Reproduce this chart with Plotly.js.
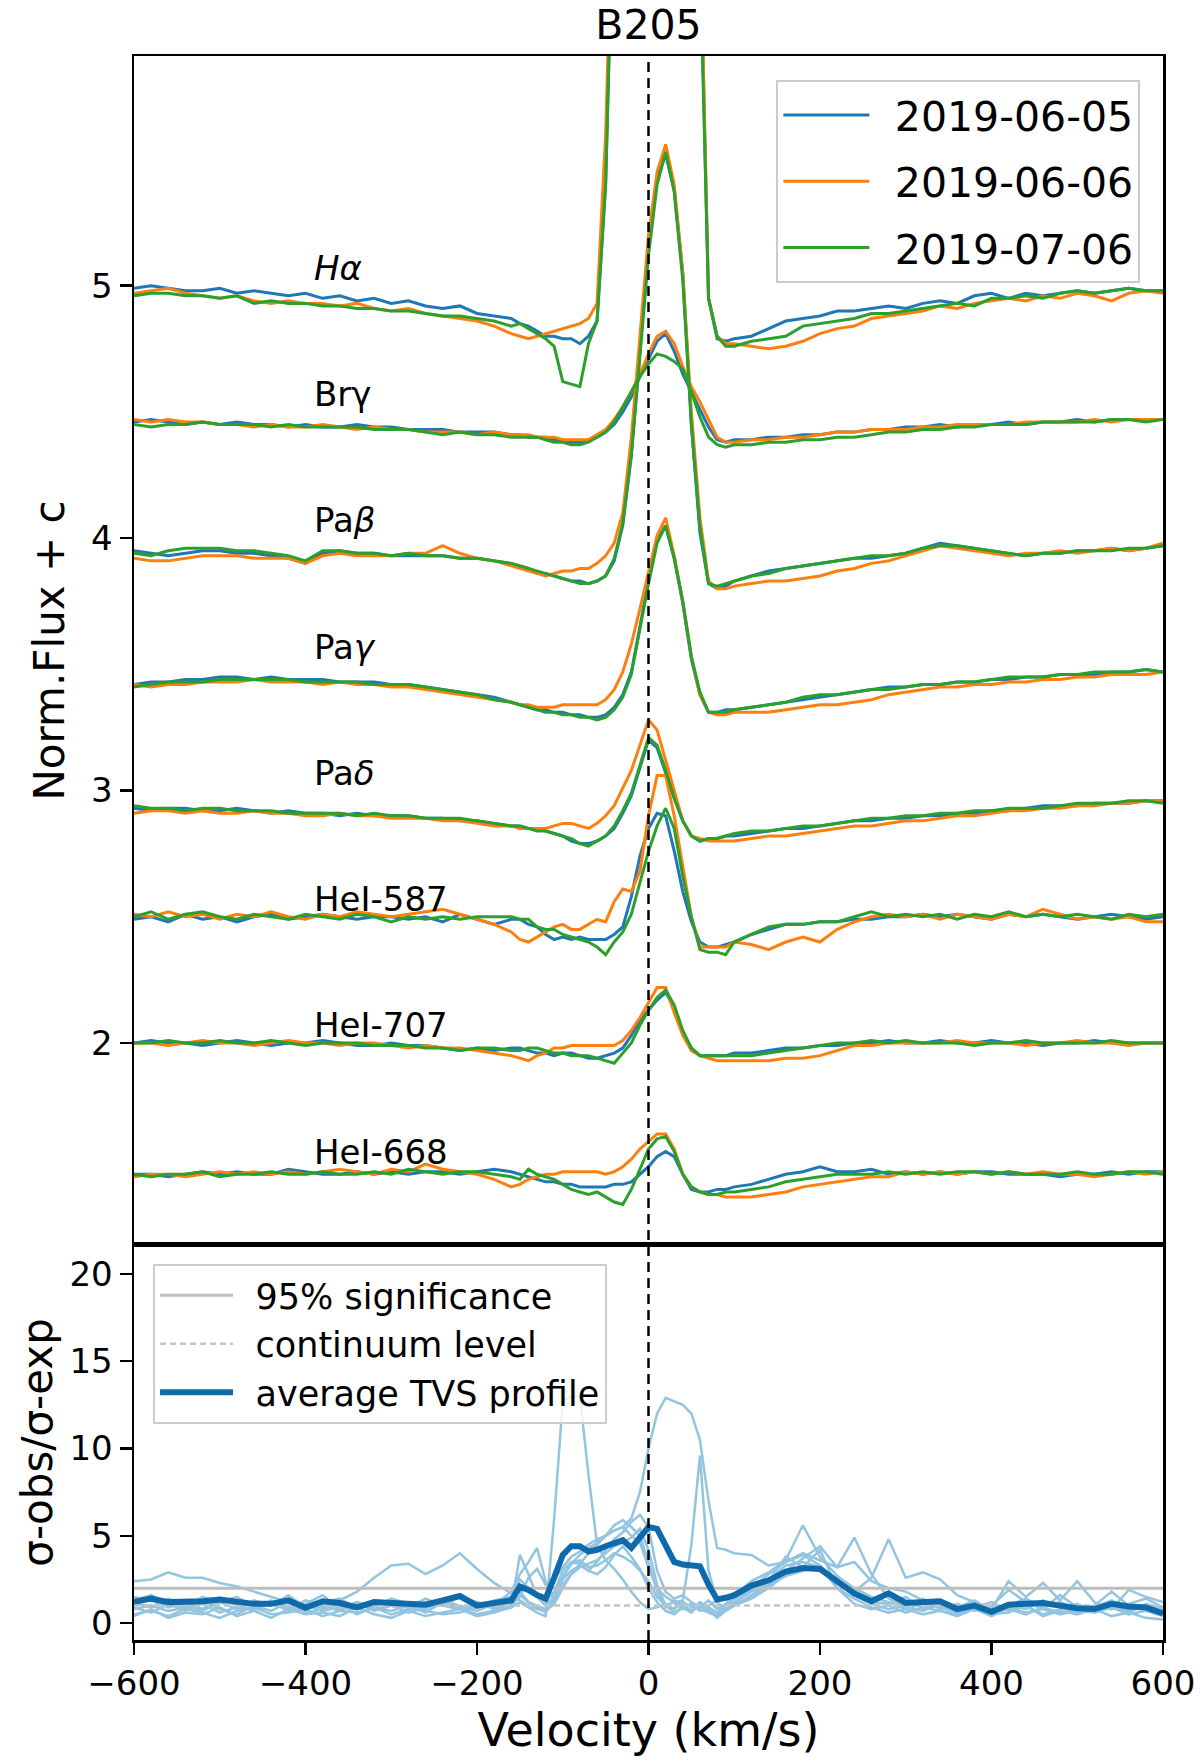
<!DOCTYPE html>
<html>
<head>
<meta charset="utf-8">
<script src="https://cdn.plot.ly/plotly-3.0.1.min.js"></script>
<style>
  html, body { margin: 0; padding: 0; background: #ffffff; }
  #tvs-chart { width: 1200px; height: 1764px; }
</style>
</head>
<body>
<div id="tvs-chart"></div>
<script>
(function () {
  "use strict";

  // velocity grid (km/s): coarse in the wings, finer across the line cores
  var velocity = [-600, -580, -560, -540, -520, -500, -480, -460, -440, -420, -400, -380, -360, -340, -320, -300, -280, -260, -240, -220, -200, -180, -160,
    -150, -140, -130, -120, -110, -100, -90, -80, -70, -60, -50, -40, -30, -20, -10, 0, 10, 20, 30, 40, 50, 60, 70, 80, 90, 100,
    120, 140, 160, 180, 200, 220, 240, 260, 280, 300, 320, 340, 360, 380, 400, 420, 440, 460, 480, 500, 520, 540, 560, 580, 600];

  var dates = ["2019-06-05", "2019-06-06", "2019-07-06"];
  var dateColors = ["#1f77b4", "#ff7f0e", "#2ca02c"];

  // normalised flux + offset, one array per line and night
  var haJun05 = [4.99, 5.00, 4.99, 4.98, 4.98, 4.99, 4.97, 4.98, 4.97, 4.96, 4.97, 4.95, 4.96, 4.94, 4.95, 4.93, 4.94, 4.92, 4.91, 4.92, 4.89, 4.88, 4.87,
    4.85, 4.84, 4.82, 4.80, 4.80, 4.79, 4.79, 4.77, 4.80, 4.86, 5.40, 6.50, 8.00, 8.00, 8.00, 8.00, 8.00, 8.00, 8.00, 8.00, 7.50, 6.40, 4.95, 4.79, 4.78, 4.79,
    4.80, 4.83, 4.86, 4.87, 4.88, 4.90, 4.90, 4.91, 4.92, 4.91, 4.93, 4.94, 4.93, 4.96, 4.97, 4.95, 4.97, 4.96, 4.97, 4.98, 4.97, 4.98, 4.99, 4.98, 4.98];
  var haJun06 = [4.97, 4.98, 4.99, 4.97, 4.96, 4.95, 4.96, 4.94, 4.93, 4.94, 4.93, 4.93, 4.92, 4.93, 4.91, 4.90, 4.91, 4.89, 4.88, 4.87, 4.86, 4.84, 4.81,
    4.80, 4.79, 4.80, 4.81, 4.82, 4.83, 4.84, 4.85, 4.87, 4.93, 5.60, 7.00, 8.00, 8.00, 8.00, 8.00, 8.00, 8.00, 8.00, 8.00, 7.50, 6.50, 4.95, 4.80, 4.77, 4.77,
    4.76, 4.75, 4.76, 4.78, 4.81, 4.83, 4.84, 4.87, 4.88, 4.89, 4.90, 4.92, 4.91, 4.93, 4.94, 4.95, 4.94, 4.96, 4.95, 4.97, 4.96, 4.94, 4.97, 4.98, 4.97];
  var haJul06 = [4.96, 4.97, 4.97, 4.96, 4.96, 4.95, 4.96, 4.93, 4.94, 4.93, 4.93, 4.92, 4.92, 4.91, 4.91, 4.90, 4.90, 4.89, 4.88, 4.88, 4.87, 4.86, 4.84,
    4.85, 4.83, 4.81, 4.79, 4.76, 4.62, 4.61, 4.60, 4.77, 4.86, 5.40, 7.00, 8.00, 8.00, 8.00, 8.00, 8.00, 8.00, 8.00, 8.00, 7.50, 6.30, 4.95, 4.80, 4.76, 4.76,
    4.78, 4.79, 4.80, 4.84, 4.85, 4.86, 4.87, 4.89, 4.89, 4.90, 4.91, 4.92, 4.93, 4.92, 4.95, 4.95, 4.96, 4.95, 4.97, 4.98, 4.97, 4.98, 4.99, 4.98, 4.98];

  var brgJun05 = [4.46, 4.47, 4.46, 4.45, 4.46, 4.45, 4.46, 4.45, 4.45, 4.44, 4.45, 4.44, 4.44, 4.45, 4.44, 4.44, 4.43, 4.43, 4.43, 4.42, 4.42, 4.42, 4.41,
    4.41, 4.40, 4.40, 4.40, 4.39, 4.39, 4.38, 4.38, 4.39, 4.40, 4.42, 4.45, 4.50, 4.56, 4.64, 4.71, 4.78, 4.81, 4.74, 4.65, 4.58, 4.51, 4.44, 4.39, 4.38, 4.39,
    4.39, 4.40, 4.40, 4.41, 4.41, 4.42, 4.42, 4.43, 4.43, 4.44, 4.44, 4.45, 4.44, 4.45, 4.45, 4.46, 4.45, 4.46, 4.46, 4.47, 4.46, 4.47, 4.47, 4.47, 4.47];
  var brgJun06 = [4.47, 4.46, 4.47, 4.46, 4.46, 4.45, 4.45, 4.44, 4.45, 4.44, 4.44, 4.45, 4.44, 4.43, 4.44, 4.43, 4.43, 4.42, 4.42, 4.42, 4.41, 4.42, 4.41,
    4.41, 4.41, 4.40, 4.40, 4.40, 4.39, 4.39, 4.39, 4.39, 4.41, 4.43, 4.47, 4.52, 4.58, 4.65, 4.73, 4.80, 4.82, 4.77, 4.68, 4.60, 4.54, 4.47, 4.40, 4.38, 4.38,
    4.39, 4.39, 4.40, 4.40, 4.41, 4.42, 4.42, 4.43, 4.43, 4.43, 4.44, 4.44, 4.45, 4.45, 4.45, 4.45, 4.46, 4.46, 4.46, 4.46, 4.47, 4.46, 4.47, 4.47, 4.47];
  var brgJul06 = [4.45, 4.44, 4.45, 4.45, 4.46, 4.45, 4.45, 4.45, 4.44, 4.45, 4.44, 4.44, 4.44, 4.44, 4.43, 4.43, 4.43, 4.42, 4.41, 4.42, 4.41, 4.41, 4.40,
    4.40, 4.40, 4.40, 4.39, 4.38, 4.38, 4.37, 4.37, 4.38, 4.40, 4.42, 4.46, 4.52, 4.58, 4.64, 4.69, 4.73, 4.72, 4.70, 4.67, 4.58, 4.48, 4.40, 4.37, 4.36, 4.37,
    4.37, 4.38, 4.38, 4.39, 4.39, 4.40, 4.40, 4.41, 4.42, 4.42, 4.43, 4.43, 4.44, 4.44, 4.45, 4.45, 4.45, 4.46, 4.46, 4.46, 4.46, 4.47, 4.47, 4.46, 4.47];

  var pabJun05 = [3.95, 3.94, 3.93, 3.94, 3.95, 3.95, 3.94, 3.94, 3.93, 3.92, 3.90, 3.94, 3.95, 3.94, 3.94, 3.93, 3.93, 3.93, 3.93, 3.92, 3.92, 3.91, 3.90,
    3.89, 3.88, 3.86, 3.86, 3.85, 3.84, 3.83, 3.83, 3.82, 3.83, 3.85, 3.91, 4.05, 4.33, 4.75, 5.15, 5.42, 5.52, 5.38, 5.05, 4.45, 4.02, 3.82, 3.80, 3.81, 3.83,
    3.85, 3.87, 3.88, 3.89, 3.90, 3.91, 3.92, 3.92, 3.93, 3.94, 3.96, 3.98, 3.97, 3.96, 3.95, 3.94, 3.93, 3.94, 3.94, 3.95, 3.95, 3.96, 3.95, 3.96, 3.97];
  var pabJun06 = [3.92, 3.91, 3.91, 3.92, 3.93, 3.93, 3.93, 3.92, 3.92, 3.92, 3.90, 3.93, 3.94, 3.93, 3.93, 3.93, 3.94, 3.94, 3.97, 3.94, 3.92, 3.91, 3.89,
    3.88, 3.87, 3.86, 3.85, 3.86, 3.87, 3.87, 3.88, 3.88, 3.90, 3.93, 3.98, 4.10, 4.40, 4.80, 5.20, 5.45, 5.56, 5.40, 5.05, 4.50, 4.08, 3.83, 3.80, 3.80, 3.81,
    3.82, 3.83, 3.83, 3.84, 3.85, 3.87, 3.88, 3.90, 3.91, 3.93, 3.95, 3.97, 3.96, 3.95, 3.94, 3.93, 3.94, 3.94, 3.95, 3.94, 3.95, 3.96, 3.95, 3.96, 3.98];
  var pabJul06 = [3.94, 3.93, 3.95, 3.96, 3.96, 3.96, 3.95, 3.95, 3.94, 3.93, 3.91, 3.95, 3.95, 3.94, 3.94, 3.93, 3.94, 3.93, 3.93, 3.92, 3.92, 3.91, 3.90,
    3.89, 3.88, 3.87, 3.86, 3.85, 3.84, 3.83, 3.82, 3.82, 3.83, 3.85, 3.92, 4.06, 4.33, 4.72, 5.12, 5.40, 5.53, 5.37, 5.02, 4.45, 4.04, 3.82, 3.81, 3.82, 3.83,
    3.85, 3.86, 3.88, 3.89, 3.90, 3.91, 3.92, 3.93, 3.93, 3.94, 3.96, 3.97, 3.97, 3.96, 3.95, 3.94, 3.93, 3.94, 3.94, 3.95, 3.95, 3.95, 3.96, 3.96, 3.97];

  var pagJun05 = [3.42, 3.43, 3.43, 3.44, 3.44, 3.45, 3.45, 3.44, 3.45, 3.44, 3.44, 3.44, 3.43, 3.43, 3.43, 3.42, 3.42, 3.41, 3.40, 3.39, 3.38, 3.37, 3.35,
    3.34, 3.33, 3.32, 3.32, 3.31, 3.31, 3.30, 3.30, 3.29, 3.29, 3.30, 3.33, 3.38, 3.47, 3.65, 3.83, 3.99, 4.05, 3.92, 3.74, 3.52, 3.38, 3.31, 3.31, 3.32, 3.32,
    3.33, 3.34, 3.35, 3.36, 3.37, 3.38, 3.39, 3.40, 3.41, 3.41, 3.42, 3.42, 3.43, 3.43, 3.44, 3.44, 3.45, 3.45, 3.46, 3.46, 3.46, 3.47, 3.47, 3.48, 3.47];
  var pagJun06 = [3.42, 3.41, 3.42, 3.42, 3.43, 3.43, 3.43, 3.44, 3.43, 3.43, 3.43, 3.42, 3.43, 3.42, 3.42, 3.41, 3.41, 3.40, 3.39, 3.38, 3.37, 3.36, 3.35,
    3.34, 3.34, 3.33, 3.33, 3.33, 3.34, 3.34, 3.34, 3.34, 3.34, 3.36, 3.40, 3.47, 3.58, 3.72, 3.86, 4.01, 4.08, 3.93, 3.75, 3.53, 3.38, 3.31, 3.30, 3.30, 3.31,
    3.31, 3.31, 3.32, 3.33, 3.34, 3.34, 3.35, 3.36, 3.38, 3.39, 3.40, 3.41, 3.41, 3.42, 3.42, 3.43, 3.43, 3.44, 3.44, 3.45, 3.45, 3.46, 3.46, 3.46, 3.47];
  var pagJul06 = [3.41, 3.42, 3.43, 3.43, 3.43, 3.44, 3.44, 3.44, 3.44, 3.44, 3.43, 3.43, 3.43, 3.43, 3.42, 3.42, 3.42, 3.41, 3.40, 3.39, 3.38, 3.36, 3.35,
    3.34, 3.33, 3.32, 3.31, 3.31, 3.30, 3.30, 3.29, 3.29, 3.28, 3.29, 3.32, 3.37, 3.46, 3.64, 3.82, 3.98, 4.05, 3.92, 3.75, 3.53, 3.39, 3.31, 3.31, 3.31, 3.32,
    3.33, 3.34, 3.35, 3.37, 3.38, 3.38, 3.39, 3.40, 3.40, 3.41, 3.42, 3.42, 3.43, 3.43, 3.44, 3.45, 3.45, 3.45, 3.46, 3.46, 3.47, 3.47, 3.47, 3.48, 3.47];

  var padJun05 = [2.93, 2.92, 2.93, 2.93, 2.92, 2.92, 2.93, 2.92, 2.91, 2.92, 2.91, 2.91, 2.90, 2.91, 2.90, 2.90, 2.90, 2.89, 2.89, 2.88, 2.88, 2.87, 2.86,
    2.86, 2.85, 2.85, 2.84, 2.83, 2.82, 2.80, 2.79, 2.79, 2.80, 2.82, 2.85, 2.91, 2.98, 3.09, 3.20, 3.17, 3.07, 2.97, 2.88, 2.82, 2.80, 2.81, 2.81, 2.82, 2.82,
    2.83, 2.84, 2.85, 2.85, 2.86, 2.87, 2.88, 2.88, 2.89, 2.89, 2.90, 2.90, 2.91, 2.91, 2.92, 2.92, 2.93, 2.94, 2.94, 2.94, 2.95, 2.95, 2.95, 2.96, 2.96];
  var padJun06 = [2.91, 2.92, 2.92, 2.91, 2.92, 2.91, 2.91, 2.92, 2.91, 2.91, 2.90, 2.90, 2.91, 2.90, 2.90, 2.89, 2.89, 2.89, 2.88, 2.88, 2.87, 2.86, 2.86,
    2.85, 2.85, 2.85, 2.85, 2.86, 2.87, 2.87, 2.86, 2.85, 2.87, 2.90, 2.94, 3.01, 3.08, 3.18, 3.28, 3.24, 3.12, 2.99, 2.88, 2.82, 2.81, 2.80, 2.80, 2.80, 2.80,
    2.81, 2.82, 2.82, 2.83, 2.84, 2.85, 2.86, 2.86, 2.87, 2.88, 2.88, 2.89, 2.90, 2.90, 2.91, 2.92, 2.92, 2.93, 2.93, 2.94, 2.94, 2.95, 2.95, 2.96, 2.96];
  var padJul06 = [2.94, 2.93, 2.93, 2.92, 2.93, 2.93, 2.92, 2.92, 2.92, 2.91, 2.91, 2.91, 2.91, 2.90, 2.91, 2.90, 2.90, 2.89, 2.89, 2.89, 2.88, 2.87, 2.86,
    2.86, 2.85, 2.84, 2.84, 2.83, 2.82, 2.81, 2.79, 2.78, 2.80, 2.82, 2.86, 2.92, 2.99, 3.10, 3.21, 3.18, 3.08, 2.97, 2.88, 2.82, 2.80, 2.81, 2.81, 2.82, 2.83,
    2.84, 2.84, 2.85, 2.86, 2.86, 2.87, 2.88, 2.89, 2.89, 2.90, 2.90, 2.91, 2.91, 2.92, 2.92, 2.93, 2.93, 2.93, 2.94, 2.95, 2.95, 2.95, 2.96, 2.96, 2.95];

  var he587Jun05 = [2.49, 2.50, 2.48, 2.51, 2.49, 2.50, 2.48, 2.50, 2.51, 2.49, 2.50, 2.51, 2.50, 2.49, 2.50, 2.50, 2.49, 2.50, 2.48, 2.51, 2.49, 2.47, 2.49,
    2.49, 2.47, 2.46, 2.43, 2.41, 2.42, 2.41, 2.42, 2.41, 2.41, 2.41, 2.43, 2.46, 2.58, 2.74, 2.85, 2.91, 2.90, 2.76, 2.60, 2.48, 2.40, 2.38, 2.38, 2.39, 2.40,
    2.43, 2.45, 2.47, 2.47, 2.48, 2.48, 2.49, 2.49, 2.50, 2.50, 2.51, 2.50, 2.51, 2.50, 2.49, 2.51, 2.50, 2.51, 2.50, 2.49, 2.50, 2.51, 2.50, 2.49, 2.50];
  var he587Jun06 = [2.51, 2.50, 2.52, 2.50, 2.51, 2.49, 2.51, 2.50, 2.52, 2.50, 2.49, 2.51, 2.50, 2.52, 2.51, 2.50, 2.51, 2.52, 2.53, 2.51, 2.49, 2.47, 2.44,
    2.41, 2.40, 2.42, 2.44, 2.46, 2.47, 2.45, 2.45, 2.47, 2.49, 2.48, 2.56, 2.61, 2.60, 2.68, 2.90, 3.06, 3.06, 2.90, 2.70, 2.50, 2.38, 2.38, 2.38, 2.38, 2.40,
    2.39, 2.37, 2.40, 2.42, 2.40, 2.45, 2.48, 2.50, 2.51, 2.50, 2.51, 2.49, 2.51, 2.50, 2.49, 2.51, 2.50, 2.53, 2.51, 2.49, 2.50, 2.49, 2.50, 2.48, 2.48];
  var he587Jul06 = [2.50, 2.52, 2.49, 2.51, 2.52, 2.50, 2.49, 2.51, 2.50, 2.49, 2.51, 2.50, 2.49, 2.51, 2.50, 2.48, 2.50, 2.49, 2.50, 2.49, 2.50, 2.50, 2.50,
    2.49, 2.49, 2.46, 2.45, 2.45, 2.43, 2.42, 2.41, 2.40, 2.38, 2.35, 2.40, 2.44, 2.51, 2.64, 2.76, 2.86, 2.93, 2.85, 2.66, 2.50, 2.37, 2.36, 2.36, 2.35, 2.40,
    2.43, 2.46, 2.47, 2.47, 2.48, 2.48, 2.50, 2.52, 2.50, 2.51, 2.50, 2.51, 2.49, 2.51, 2.50, 2.52, 2.50, 2.51, 2.50, 2.51, 2.50, 2.49, 2.51, 2.50, 2.51];

  var he707Jun05 = [2.00, 2.01, 2.00, 2.00, 1.99, 2.00, 2.01, 2.00, 1.99, 2.00, 2.00, 2.01, 2.00, 1.99, 1.99, 2.00, 1.99, 1.99, 1.98, 1.97, 1.98, 1.97, 1.98,
    1.98, 1.97, 1.96, 1.96, 1.95, 1.96, 1.96, 1.95, 1.94, 1.94, 1.95, 1.96, 1.98, 2.03, 2.09, 2.13, 2.17, 2.20, 2.14, 2.04, 1.98, 1.95, 1.95, 1.95, 1.95, 1.96,
    1.96, 1.97, 1.98, 1.98, 1.99, 1.99, 2.00, 2.00, 2.01, 2.00, 2.00, 2.01, 2.00, 2.00, 2.01, 2.00, 2.00, 1.99, 2.00, 2.00, 2.01, 2.00, 2.00, 2.00, 2.00];
  var he707Jun06 = [2.00, 2.00, 1.99, 2.00, 2.01, 2.00, 2.00, 1.99, 2.00, 2.01, 2.00, 2.00, 1.99, 2.00, 2.00, 1.99, 1.98, 1.99, 1.98, 1.98, 1.97, 1.96, 1.95,
    1.94, 1.93, 1.95, 1.96, 1.98, 1.98, 1.99, 1.99, 1.99, 1.99, 1.99, 1.99, 2.01, 2.05, 2.10, 2.16, 2.22, 2.22, 2.12, 2.03, 1.97, 1.95, 1.94, 1.93, 1.93, 1.93,
    1.93, 1.93, 1.94, 1.94, 1.95, 1.97, 1.99, 1.99, 2.00, 2.00, 2.00, 2.00, 2.01, 2.00, 2.00, 2.00, 1.99, 2.00, 2.00, 2.01, 2.00, 2.00, 1.99, 2.00, 2.00];
  var he707Jul06 = [2.00, 2.00, 2.01, 2.00, 2.00, 2.01, 2.00, 2.00, 2.01, 2.00, 1.99, 2.00, 2.00, 2.00, 1.99, 1.99, 1.99, 1.98, 1.98, 1.97, 1.98, 1.98, 1.97,
    1.97, 1.98, 1.98, 1.97, 1.96, 1.96, 1.95, 1.95, 1.95, 1.94, 1.93, 1.92, 1.96, 2.00, 2.07, 2.13, 2.18, 2.21, 2.15, 2.05, 1.98, 1.95, 1.95, 1.95, 1.95, 1.95,
    1.95, 1.96, 1.97, 1.98, 1.99, 2.00, 2.00, 2.01, 2.00, 2.01, 2.00, 2.00, 2.00, 1.99, 2.00, 2.00, 2.01, 2.00, 2.00, 2.00, 2.00, 2.01, 2.00, 2.00, 2.00];

  var he668Jun05 = [1.48, 1.48, 1.47, 1.48, 1.49, 1.48, 1.49, 1.48, 1.48, 1.50, 1.49, 1.48, 1.48, 1.49, 1.48, 1.49, 1.48, 1.49, 1.49, 1.48, 1.49, 1.50, 1.49,
    1.48, 1.47, 1.46, 1.45, 1.45, 1.44, 1.44, 1.43, 1.43, 1.43, 1.43, 1.44, 1.44, 1.45, 1.48, 1.51, 1.55, 1.57, 1.55, 1.48, 1.42, 1.41, 1.41, 1.42, 1.42, 1.43,
    1.44, 1.46, 1.48, 1.49, 1.51, 1.49, 1.49, 1.50, 1.48, 1.49, 1.48, 1.49, 1.48, 1.49, 1.49, 1.48, 1.48, 1.48, 1.47, 1.48, 1.48, 1.49, 1.48, 1.49, 1.49];
  var he668Jun06 = [1.47, 1.48, 1.48, 1.47, 1.48, 1.49, 1.48, 1.49, 1.48, 1.49, 1.48, 1.49, 1.50, 1.49, 1.48, 1.50, 1.49, 1.52, 1.50, 1.49, 1.48, 1.46, 1.43,
    1.44, 1.46, 1.47, 1.48, 1.48, 1.49, 1.49, 1.49, 1.49, 1.49, 1.48, 1.49, 1.51, 1.54, 1.58, 1.61, 1.64, 1.64, 1.58, 1.48, 1.43, 1.41, 1.40, 1.40, 1.39, 1.39,
    1.39, 1.40, 1.41, 1.43, 1.44, 1.45, 1.46, 1.47, 1.47, 1.49, 1.48, 1.49, 1.48, 1.49, 1.48, 1.49, 1.48, 1.49, 1.48, 1.48, 1.47, 1.48, 1.49, 1.48, 1.49];
  var he668Jul06 = [1.48, 1.47, 1.48, 1.48, 1.49, 1.47, 1.48, 1.48, 1.49, 1.48, 1.48, 1.49, 1.48, 1.48, 1.49, 1.48, 1.50, 1.49, 1.48, 1.49, 1.49, 1.48, 1.47,
    1.46, 1.50, 1.48, 1.47, 1.46, 1.44, 1.42, 1.41, 1.40, 1.41, 1.39, 1.37, 1.36, 1.42, 1.50, 1.58, 1.62, 1.63, 1.57, 1.48, 1.43, 1.41, 1.40, 1.40, 1.41, 1.41,
    1.42, 1.43, 1.45, 1.46, 1.47, 1.48, 1.48, 1.48, 1.49, 1.48, 1.49, 1.48, 1.49, 1.49, 1.48, 1.49, 1.48, 1.48, 1.48, 1.49, 1.48, 1.48, 1.49, 1.49, 1.48];

  var lineLabels = ["<i>Hα</i>", "Brγ", "Pa<i>β</i>", "Pa<i>γ</i>", "Pa<i>δ</i>", "HeI-587", "HeI-707", "HeI-668"];
  var labelLevels = [5.07, 4.57, 4.07, 3.57, 3.07, 2.57, 2.07, 1.57];
  var labelVelocity = -392;

  // TVS (sigma-obs / sigma-exp) of the individual lines, and their average
  var tvsHa = [0.9, 0.6, 1.1, 0.7, 1.3, 0.8, 0.5, 1.0, 0.7, 1.2, 0.6, 0.8, 1.1, 0.5, 0.9, 0.7, 1.0, 0.6, 1.2, 0.9, 0.5, 0.7, 0.9,
    1.2, 0.9, 0.6, 0.4, 6.0, 12.7, 13.0, 13.0, 8.5, 4.5, 3.6, 3.1, 2.5, 1.8, 1.2, 0.8, 0.9, 1.1, 0.8, 1.2, 0.9, 1.0, 0.7, 0.5, 0.9, 1.2,
    1.8, 2.5, 3.3, 3.5, 3.2, 2.0, 1.1, 0.8, 1.0, 0.6, 0.9, 0.7, 0.5, 0.8, 0.4, 0.9, 0.6, 0.8, 0.5, 0.7, 0.6, 0.9, 0.5, 0.7, 0.4];
  var tvsBrg = [2.4, 2.5, 2.9, 2.6, 2.6, 2.3, 2.1, 1.8, 1.5, 1.2, 1.0, 0.7, 0.9, 1.1, 0.8, 1.0, 0.6, 0.9, 1.1, 0.8, 1.0, 1.3, 1.5,
    1.8, 1.2, 0.9, 0.6, 1.5, 2.2, 2.8, 3.4, 4.0, 4.5, 5.0, 5.3, 5.5, 6.0, 7.5, 10.0, 12.0, 12.9, 12.7, 12.5, 12.0, 10.5, 7.0, 4.3, 4.2, 4.0,
    3.9, 3.3, 3.5, 4.0, 3.6, 3.2, 3.5, 2.4, 2.0, 1.8, 1.3, 1.0, 0.7, 0.9, 0.6, 0.8, 0.5, 0.9, 0.6, 0.7, 1.0, 0.8, 1.1, 1.4, 0.9];
  var tvsPab = [1.5, 1.3, 0.9, 1.2, 0.8, 1.4, 1.0, 0.7, 1.3, 0.9, 1.1, 1.6, 0.8, 1.2, 0.7, 1.0, 0.9, 1.4, 1.0, 0.8, 1.2, 0.9, 1.1,
    1.5, 2.6, 3.1, 2.2, 2.5, 3.2, 3.8, 4.1, 4.5, 4.8, 5.0, 5.3, 5.5, 5.0, 4.6, 3.2, 2.0, 1.5, 1.2, 1.3, 4.5, 9.6, 3.0, 1.2, 0.8, 1.0,
    1.4, 2.0, 2.8, 3.2, 3.0, 2.5, 1.6, 1.1, 0.8, 1.0, 1.4, 0.8, 1.1, 0.7, 1.0, 1.9, 1.2, 0.8, 1.6, 0.9, 0.7, 1.2, 0.6, 1.1, 0.8];
  var tvsPag = [0.8, 1.0, 0.7, 0.9, 1.1, 0.6, 0.9, 0.8, 1.2, 0.7, 1.0, 0.9, 1.3, 1.8, 2.6, 3.3, 3.4, 2.8, 3.3, 4.0, 3.1, 2.3, 1.7,
    1.3, 1.0, 0.8, 0.7, 1.1, 2.0, 2.8, 3.2, 3.4, 3.6, 4.0, 4.4, 4.6, 4.9, 5.4, 4.2, 2.2, 1.0, 0.6, 0.9, 1.1, 0.8, 0.6, 0.4, 0.8, 1.1,
    1.5, 2.2, 3.0, 3.7, 4.4, 3.2, 4.9, 2.8, 1.4, 0.9, 0.7, 1.1, 0.6, 0.9, 1.2, 0.7, 1.0, 0.5, 0.8, 1.1, 0.6, 0.9, 0.7, 1.0, 0.6];
  var tvsPad = [0.5, 0.7, 0.4, 0.8, 0.6, 0.3, 0.7, 0.9, 0.5, 0.6, 0.8, 0.4, 0.7, 0.6, 0.9, 0.5, 0.8, 0.7, 0.5, 0.6, 0.9, 1.0, 1.8,
    2.8, 3.5, 4.3, 2.4, 1.3, 2.6, 3.4, 3.9, 4.3, 4.6, 5.0, 5.6, 5.9, 5.5, 5.0, 3.5, 1.8, 0.9, 1.3, 1.0, 0.7, 1.2, 0.9, 0.6, 1.0, 1.4,
    2.0, 2.8, 3.5, 3.9, 3.3, 2.4, 1.8, 2.6, 4.8, 2.6, 2.9, 2.5, 1.6, 1.2, 0.8, 2.4, 1.5, 2.3, 1.3, 2.4, 1.2, 0.8, 1.9, 1.5, 1.2];
  var tvsHe587 = [1.2, 0.9, 1.4, 1.0, 0.7, 1.2, 1.5, 0.9, 1.1, 0.8, 1.3, 1.0, 0.7, 1.2, 0.9, 1.4, 1.1, 0.8, 1.3, 1.0, 0.7, 1.1, 1.4,
    2.5, 2.0, 1.5, 1.2, 1.8, 3.0, 3.5, 3.4, 3.0, 3.5, 4.2, 4.8, 5.2, 5.8, 6.2, 5.5, 3.0, 1.8, 1.4, 1.6, 1.2, 0.9, 1.3, 0.8, 1.1, 1.6,
    2.4, 2.9, 3.6, 5.6, 3.8, 2.7, 2.0, 1.5, 1.2, 0.8, 1.1, 0.9, 0.6, 1.0, 0.7, 1.1, 0.8, 1.3, 0.9, 0.6, 1.0, 1.8, 1.0, 0.7, 0.5];
  var tvsHe707 = [0.4, 0.8, 0.3, 0.6, 0.5, 0.9, 0.4, 0.7, 0.3, 0.8, 0.5, 0.6, 0.4, 0.9, 0.5, 0.3, 0.7, 0.4, 0.6, 0.8, 0.4, 0.6, 0.9,
    1.6, 1.2, 1.0, 0.8, 1.2, 2.5, 3.0, 3.3, 3.0, 2.8, 3.2, 3.9, 4.4, 3.8, 3.1, 2.0, 1.2, 0.7, 0.5, 0.9, 0.6, 1.1, 0.8, 0.3, 0.7, 1.0,
    1.6, 2.4, 3.8, 3.2, 4.2, 2.0, 1.4, 0.9, 0.6, 0.8, 0.5, 0.7, 0.4, 0.8, 0.5, 0.6, 1.0, 0.4, 0.7, 0.5, 0.8, 0.4, 0.6, 0.3, 0.2];
  var tvsHe668 = [1.3, 1.6, 1.1, 0.9, 1.5, 1.2, 0.8, 1.3, 1.0, 1.6, 0.9, 1.2, 1.4, 0.8, 1.1, 1.3, 0.9, 1.2, 1.0, 1.5, 1.2, 0.8, 1.0,
    3.9, 2.8, 1.5, 1.0, 1.5, 2.7, 3.4, 3.6, 3.2, 3.3, 3.6, 4.0, 3.8, 3.5, 3.0, 2.4, 1.5, 1.0, 1.2, 0.8, 1.1, 0.7, 1.0, 1.3, 1.5, 1.4,
    1.9, 2.1, 2.7, 3.0, 3.3, 2.3, 1.6, 1.2, 1.1, 1.5, 0.8, 1.2, 0.9, 1.3, 0.7, 1.0, 1.4, 0.9, 1.2, 0.8, 0.9, 1.3, 0.8, 1.0, 0.7];
  var tvsAverage = [1.22, 1.40, 1.20, 1.20, 1.25, 1.35, 1.20, 1.10, 1.10, 1.30, 0.88, 1.25, 1.15, 0.90, 1.20, 1.15, 1.10, 1.05, 1.30, 1.55, 1.00, 1.15, 1.30,
    2.10, 1.90, 1.60, 1.40, 2.60, 3.90, 4.40, 4.40, 4.10, 4.20, 4.40, 4.60, 4.75, 4.30, 4.90, 5.50, 5.40, 4.50, 3.50, 3.35, 3.30, 3.25, 2.20, 1.35, 1.45, 1.60,
    2.15, 2.45, 2.95, 3.15, 3.10, 2.40, 1.70, 1.25, 1.70, 1.15, 1.20, 1.25, 0.80, 1.00, 0.65, 1.05, 1.10, 1.15, 1.00, 0.85, 0.80, 1.10, 0.95, 0.90, 0.55];
  var significanceLevel = 2.0;
  var continuumLevel = 1.0;
  var restVelocity = 0;

  var spectra = [
    [haJun05, haJun06, haJul06],
    [brgJun05, brgJun06, brgJul06],
    [pabJun05, pabJun06, pabJul06],
    [pagJun05, pagJun06, pagJul06],
    [padJun05, padJun06, padJul06],
    [he587Jun05, he587Jun06, he587Jul06],
    [he707Jun05, he707Jun06, he707Jul06],
    [he668Jun05, he668Jun06, he668Jul06]
  ];
  var tvsLines = [tvsHa, tvsBrg, tvsPab, tvsPag, tvsPad, tvsHe587, tvsHe707, tvsHe668];
  var vEdges = [velocity[0], velocity[velocity.length - 1]];
  var gap = "\u2002"; // small space between legend sample and its text

  var traces = [];
  dates.forEach(function (date, d) {
    spectra.forEach(function (obs, i) {
      traces.push({
        type: "scatter", mode: "lines",
        x: velocity, y: obs[d],
        xaxis: "x2", yaxis: "y",
        name: gap + date, legendgroup: date, showlegend: i === 0,
        line: { color: dateColors[d], width: 3 },
        hoverinfo: "skip"
      });
    });
  });

  tvsLines.forEach(function (t) {
    traces.push({
      type: "scatter", mode: "lines",
      x: velocity, y: t, xaxis: "x", yaxis: "y2",
      showlegend: false,
      line: { color: "#93c4e0", width: 2.5 },
      hoverinfo: "skip"
    });
  });
  traces.push({
    type: "scatter", mode: "lines", x: vEdges, y: [significanceLevel, significanceLevel],
    xaxis: "x", yaxis: "y2", legend: "legend2", name: gap + "95% significance",
    line: { color: "#bdbdbd", width: 3 }, hoverinfo: "skip"
  });
  traces.push({
    type: "scatter", mode: "lines", x: vEdges, y: [continuumLevel, continuumLevel],
    xaxis: "x", yaxis: "y2", legend: "legend2", name: gap + "continuum level",
    line: { color: "#c4c4c4", width: 2.5, dash: "6px,4px" }, hoverinfo: "skip"
  });
  traces.push({
    type: "scatter", mode: "lines", x: velocity, y: tvsAverage,
    xaxis: "x", yaxis: "y2", legend: "legend2", name: gap + "average TVS profile",
    line: { color: "#0f6aab", width: 6 }, hoverinfo: "skip"
  });

  var annotations = lineLabels.map(function (txt, i) {
    return {
      text: txt, xref: "x2", yref: "y", x: labelVelocity, y: labelLevels[i],
      xanchor: "left", yanchor: "middle", showarrow: false,
      font: { size: 34, color: "#000000" }
    };
  });

  var frame = { showline: true, linecolor: "#000000", linewidth: 2.5, mirror: true, showgrid: false, zeroline: false };

  var layout = {
    width: 1200, height: 1764,
    margin: { l: 134, r: 37, t: 56, b: 124 },
    paper_bgcolor: "#ffffff", plot_bgcolor: "#ffffff",
    font: { family: "DejaVu Sans, sans-serif", color: "#000000", size: 34 },
    title: { text: "B205", font: { size: 41 }, x: 0.5, xref: "paper", y: 1 - 25 / 1764, yref: "container", yanchor: "middle" },
    showlegend: true,
    hovermode: false,
    xaxis: Object.assign({
      anchor: "y2", range: [-600, 600], tickvals: [-600, -400, -200, 0, 200, 400, 600],
      ticks: "outside", ticklen: 12, tickwidth: 2.5, tickcolor: "#000000",
      tickfont: { size: 34 },
      title: { text: "Velocity (km/s)", font: { size: 46 }, standoff: 10 }
    }, frame),
    xaxis2: Object.assign({ anchor: "y", matches: "x", showticklabels: false, ticks: "" }, frame),
    yaxis: Object.assign({
      domain: [0.2494, 1], range: [1.2, 5.91], tickvals: [2, 3, 4, 5],
      ticks: "outside", ticklen: 12, tickwidth: 2.5, tickcolor: "#000000",
      tickfont: { size: 34 },
      title: { text: "Norm.Flux + c", font: { size: 42 }, standoff: 14 }
    }, frame),
    yaxis2: Object.assign({
      domain: [0, 0.2494], range: [-0.97, 21.66], tickvals: [0, 5, 10, 15, 20],
      ticks: "outside", ticklen: 12, tickwidth: 2.5, tickcolor: "#000000",
      tickfont: { size: 34 },
      title: { text: "σ-obs/σ-exp", font: { size: 42 }, standoff: 4 }
    }, frame),
    legend: {
      x: 0.978, y: 0.985, xanchor: "right", yanchor: "top",
      bgcolor: "rgba(255,255,255,0.8)", bordercolor: "#cccccc", borderwidth: 2,
      font: { size: 41 }, itemwidth: 86
    },
    legend2: {
      x: 0.0185, y: 0.2374, xanchor: "left", yanchor: "top",
      bgcolor: "rgba(255,255,255,0.8)", bordercolor: "#cccccc", borderwidth: 2,
      font: { size: 35 }, itemwidth: 73
    },
    shapes: [{
      type: "line", xref: "x", yref: "paper", x0: restVelocity, x1: restVelocity, y0: 0, y1: 1,
      line: { color: "#000000", width: 2.5, dash: "10px,6px" }
    }],
    annotations: annotations
  };

  Plotly.newPlot("tvs-chart", traces, layout, { displayModeBar: false, staticPlot: true });
}());
</script>
</body>
</html>
